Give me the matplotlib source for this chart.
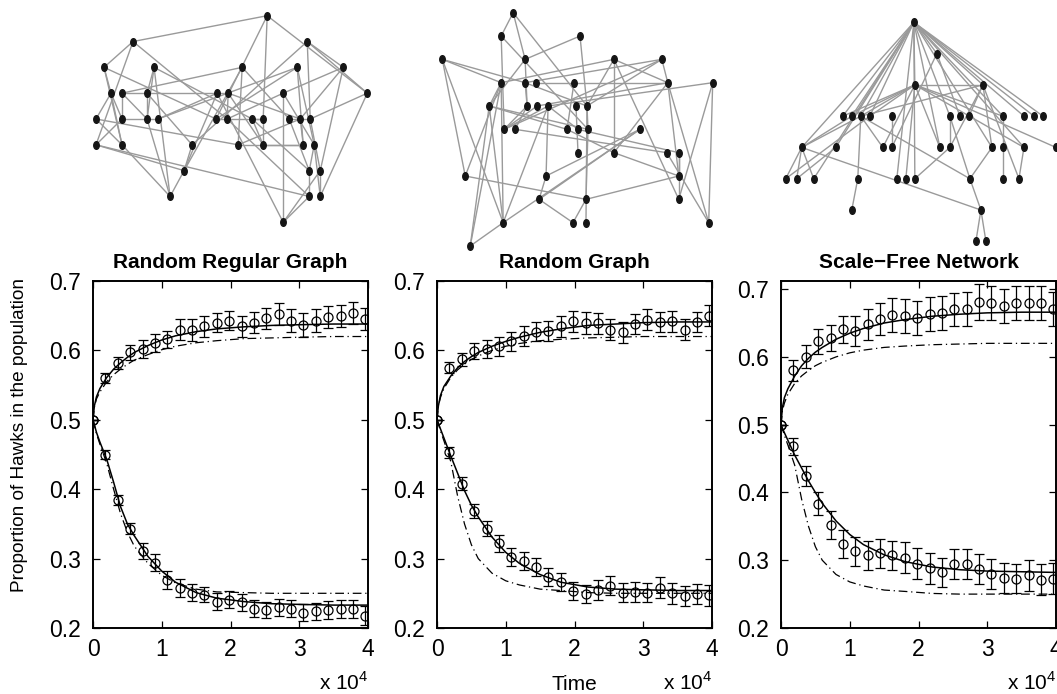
import matplotlib
matplotlib.use("Agg")
import matplotlib.pyplot as plt
from matplotlib.path import Path
from matplotlib.transforms import Affine2D
from matplotlib.collections import LineCollection

plt.rcParams['font.family'] = ['Liberation Sans', 'DejaVu Sans']
plt.rcParams['mathtext.fontset'] = 'custom'
plt.rcParams['mathtext.rm'] = 'Liberation Sans'

# ---- simulation samples (time steps) ----
t_obs = [0, 1800, 3600, 5400, 7200, 9000, 10800, 12600, 14400, 16200, 18000, 19800,
         21600, 23400, 25200, 27000, 28800, 30600, 32400, 34200, 36000, 37800, 39600]

rrg_up = [0.500, 0.560, 0.582, 0.597, 0.602, 0.611, 0.616, 0.630, 0.629, 0.635, 0.640, 0.643,
          0.635, 0.640, 0.646, 0.652, 0.643, 0.637, 0.643, 0.648, 0.650, 0.654, 0.645]
rrg_up_err = [0, .007, .009, .011, .013, .013, .012, .015, .016, .015, .014, .014,
              .015, .015, .015, .016, .017, .017, .016, .016, .016, .016, .016]
rrg_low = [0.500, 0.450, 0.384, 0.343, 0.311, 0.294, 0.269, 0.258, 0.251, 0.248, 0.238, 0.241,
           0.237, 0.228, 0.226, 0.230, 0.228, 0.222, 0.224, 0.226, 0.228, 0.228, 0.218]
rrg_low_err = [0, .006, .007, .008, .011, .012, .013, .013, .012, .011, .012, .012,
               .012, .012, .012, .012, .012, .012, .012, .013, .013, .013, .013]

rg_up = [0.500, 0.575, 0.587, 0.599, 0.602, 0.606, 0.613, 0.621, 0.627, 0.628, 0.635, 0.642,
         0.640, 0.639, 0.630, 0.626, 0.638, 0.644, 0.641, 0.642, 0.630, 0.641, 0.650]
rg_up_err = [0, .008, .009, .012, .013, .014, .014, .014, .014, .014, .015, .015,
             .016, .015, .015, .015, .015, .015, .015, .015, .015, .015, .015]
rg_low = [0.500, 0.453, 0.408, 0.369, 0.343, 0.322, 0.302, 0.296, 0.288, 0.274, 0.266, 0.254,
          0.249, 0.255, 0.261, 0.251, 0.252, 0.251, 0.258, 0.250, 0.246, 0.249, 0.247]
rg_low_err = [0, .008, .009, .010, .011, .012, .013, .013, .013, .013, .013, .013,
              .013, .014, .014, .014, .014, .014, .015, .015, .015, .015, .015]

sf_up = [0.500, 0.580, 0.600, 0.623, 0.628, 0.641, 0.638, 0.648, 0.656, 0.662, 0.661, 0.658,
         0.663, 0.665, 0.670, 0.671, 0.681, 0.680, 0.675, 0.680, 0.679, 0.680, 0.671]
sf_up_err = [0, .015, .017, .018, .019, .020, .022, .023, .024, .025, .025, .025,
             .025, .025, .025, .025, .026, .025, .025, .025, .025, .025, .025]
sf_low = [0.500, 0.468, 0.424, 0.383, 0.352, 0.324, 0.313, 0.307, 0.310, 0.307, 0.304, 0.295,
          0.288, 0.282, 0.294, 0.295, 0.287, 0.280, 0.274, 0.273, 0.278, 0.271, 0.273]
sf_low_err = [0, .012, .015, .017, .020, .021, .022, .022, .022, .022, .023, .023,
              .023, .022, .022, .022, .022, .022, .022, .022, .023, .023, .023]

# ---- model curves (solid: network approximation, dash-dot: mean field) ----
t_fit = [0, 200, 500, 1000, 2000, 3000, 4000, 5000, 6000, 8000, 10000, 12000,
         15000, 18000, 22000, 26000, 30000, 35000, 40000]
rrg_fit_up = [.500, .520, .533, .545, .561, .573, .582, .590, .597, .607, .615, .621,
              .627, .631, .634, .636, .637, .638, .638]
rrg_fit_low = [.500, .493, .482, .468, .443, .410, .375, .350, .333, .303, .282, .266,
               .251, .243, .238, .235, .234, .233, .233]
rrg_mf_up = [.500, .518, .530, .540, .555, .565, .573, .580, .586, .594, .601, .606,
             .611, .614, .617, .618, .619, .620, .620]
rrg_mf_low = [.500, .492, .480, .465, .437, .400, .365, .338, .318, .293, .276, .265,
              .256, .252, .251, .250, .250, .250, .250]
rg_fit_up = [.500, .520, .535, .548, .563, .575, .584, .591, .597, .606, .613, .619,
             .626, .631, .636, .638, .640, .641, .641]
rg_fit_low = [.500, .495, .487, .474, .448, .423, .398, .377, .360, .331, .309, .293,
              .277, .266, .259, .256, .255, .254, .254]
sf_fit_up = [.500, .525, .540, .553, .572, .587, .598, .607, .614, .626, .635, .642,
             .650, .655, .660, .663, .665, .666, .666]
sf_fit_low = [.500, .495, .488, .477, .455, .436, .417, .400, .384, .358, .338, .323,
              .308, .298, .290, .286, .284, .283, .282]
mf_up = [.500, .520, .532, .545, .561, .572, .580, .587, .592, .600, .606, .610,
         .614, .616, .618, .619, .620, .620, .620]
mf_low = [.500, .494, .484, .470, .440, .390, .350, .320, .300, .279, .268, .262,
          .256, .254, .251, .250, .250, .250, .250]

titles = ['Random Regular Graph', 'Random Graph', 'Scale\u2212Free Network']

# ---- network layouts (x position, row) and edge lists ----
g1_x = [267, 133, 307, 104, 154, 242, 297, 343, 111, 122, 147, 217, 228, 283, 367, 96, 122, 147, 158, 216,
        227, 252, 263, 289, 300, 310, 96, 122, 192, 238, 263, 303, 314, 184, 309, 320, 170, 309, 320, 283]
g1_row = [0, 1, 1, 2, 2, 2, 2, 2, 3, 3, 3, 3, 3, 3, 3, 4, 4, 4, 4, 4,
          4, 4, 4, 4, 4, 4, 5, 5, 5, 5, 5, 5, 5, 6, 6, 6, 7, 7, 7, 8]
g1_edges = [(0, 1), (0, 19), (0, 22), (0, 14), (1, 3), (1, 26), (1, 20), (2, 7), (2, 14), (2, 28),
            (2, 25), (3, 8), (3, 27), (3, 19), (4, 17), (4, 36), (4, 21), (4, 10), (5, 9), (5, 29),
            (5, 23), (5, 33), (6, 18), (6, 32), (6, 19), (6, 31), (7, 24), (7, 35), (7, 13), (8, 15),
            (8, 27), (8, 16), (9, 16), (9, 17), (9, 11), (10, 17), (10, 28), (11, 12), (11, 39),
            (11, 33), (12, 20), (12, 24), (12, 30), (13, 39), (13, 20), (13, 32), (14, 25), (14, 38),
            (15, 27), (15, 29), (16, 18), (16, 26), (19, 22), (20, 37), (21, 22), (21, 30), (21, 34),
            (22, 30), (23, 25), (23, 34), (24, 31), (24, 29), (25, 35), (26, 37), (26, 33), (27, 36),
            (28, 33), (29, 31), (30, 31), (32, 34), (32, 38), (33, 36), (34, 37), (35, 38), (35, 39),
            (37, 39), (17, 36), (18, 11)]

g2_x = [513, 501, 580, 442, 525, 614, 662, 501, 525, 536, 574, 668, 713, 489, 527, 537, 548, 576, 587, 504,
        515, 567, 578, 588, 640, 578, 614, 667, 679, 465, 546, 679, 539, 586, 679, 503, 573, 586, 709, 470]
g2_row = [0, 1, 1, 2, 2, 2, 2, 3, 3, 3, 3, 3, 3, 4, 4, 4, 4, 4, 4, 5,
          5, 5, 5, 5, 5, 6, 6, 6, 6, 7, 7, 7, 8, 8, 8, 9, 9, 9, 9, 10]
g2_edges = [(0, 1), (0, 18), (0, 4), (1, 19), (1, 23), (2, 4), (2, 18), (3, 7), (3, 35), (3, 29),
            (3, 8), (4, 14), (4, 13), (5, 7), (5, 26), (5, 18), (5, 34), (5, 11), (6, 8), (6, 11),
            (6, 18), (6, 19), (7, 35), (7, 39), (7, 13), (8, 18), (8, 14), (9, 11), (10, 21),
            (11, 38), (11, 26), (11, 15), (11, 31), (12, 16), (12, 34), (13, 23), (13, 35), (13, 39),
            (13, 21), (14, 19), (14, 20), (15, 19), (16, 30), (16, 22), (16, 35), (17, 25), (18, 37),
            (18, 23), (20, 27), (21, 26), (22, 28), (23, 33), (24, 35), (24, 30), (26, 31), (27, 38),
            (28, 31), (28, 34), (29, 33), (29, 7), (30, 32), (31, 33), (32, 36), (33, 36), (35, 39),
            (16, 19), (12, 38), (24, 32)]

g3_x = [914, 937, 915, 983, 843, 852, 861, 870, 892, 950, 960, 969, 1003, 1024, 1034, 1043, 802, 836, 883, 892,
        940, 950, 992, 1003, 1024, 1056, 786, 797, 814, 858, 897, 906, 915, 970, 1003, 1019, 852, 981, 976, 986]
g3_row = [0, 1, 2, 2, 3, 3, 3, 3, 3, 3, 3, 3, 3, 3, 3, 3, 4, 4, 4, 4,
          4, 4, 4, 4, 4, 4, 5, 5, 5, 5, 5, 5, 5, 5, 5, 5, 6, 6, 7, 7]
g3_edges = [(0, 1), (0, 2), (0, 3), (0, 4), (0, 5), (0, 6), (0, 7), (0, 16), (0, 17), (0, 32),
            (0, 9), (0, 20), (0, 12), (0, 13), (0, 14), (0, 15), (0, 22), (0, 24), (0, 28), (0, 30),
            (1, 19), (1, 10), (2, 4), (2, 5), (2, 6), (2, 7), (2, 3), (2, 20), (2, 24), (2, 12),
            (2, 18), (2, 31), (2, 25), (3, 6), (3, 21), (3, 22), (3, 35), (3, 11), (5, 16), (6, 29),
            (6, 18), (6, 33), (6, 16), (7, 26), (8, 19), (9, 21), (9, 33), (12, 23), (16, 26),
            (16, 27), (16, 28), (16, 37), (17, 27), (22, 33), (23, 34), (24, 35), (29, 36), (32, 21),
            (33, 37), (37, 38), (37, 39)]

W, H = 1057, 694
fig = plt.figure(figsize=(W / 100, H / 100), dpi=100)


def px_axes(x0, y0, x1, y1):
    return fig.add_axes([x0 / W, 1 - y1 / H, (x1 - x0) / W, (y1 - y0) / H])


node_marker = Path.unit_circle().transformed(Affine2D().scale(0.72, 1.0))


def draw_net(rect, xs, rows, edges):
    ax = px_axes(*rect)
    segs = [[(xs[a], rows[a]), (xs[b], rows[b])] for a, b in edges]
    ax.add_collection(LineCollection(segs, colors='#9a9a9a', linewidths=1.0, zorder=1, clip_on=False))
    ax.plot(xs, rows, ls='none', marker=node_marker, ms=5.5, color='#151515', zorder=2, clip_on=False)
    ax.set_xlim(min(xs), max(xs))
    ax.set_ylim(max(rows), 0)
    ax.axis('off')


draw_net((96, 15.7, 367.3, 222.3), g1_x, g1_row, g1_edges)
draw_net((442.3, 12.7, 712.7, 246), g2_x, g2_row, g2_edges)
draw_net((785.7, 22.3, 1056, 241.3), g3_x, g3_row, g3_edges)

panels = [
    (93, rrg_up, rrg_up_err, rrg_low, rrg_low_err, rrg_fit_up, rrg_fit_low, rrg_mf_up, rrg_mf_low, 0.70),
    (437, rg_up, rg_up_err, rg_low, rg_low_err, rg_fit_up, rg_fit_low, mf_up, mf_low, 0.70),
    (781, sf_up, sf_up_err, sf_low, sf_low_err, sf_fit_up, sf_fit_low, mf_up, mf_low, 0.712),
]

xo = [t / 1e4 for t in t_obs]
xf = [t / 1e4 for t in t_fit]

for k, (left, up, up_e, low, low_e, fu, fl, mu, ml, ytop) in enumerate(panels):
    ax = px_axes(left, 281, left + 275, 628)
    for y, e in ((up, up_e), (low, low_e)):
        ax.errorbar(xo, y, yerr=e, fmt='o', ms=6.5, mfc='none', mec='k', mew=0.9,
                    ecolor='k', elinewidth=0.9, capsize=3.5, capthick=0.9, zorder=3)
    ax.plot(xf, fu, color='k', lw=1.1, zorder=2)
    ax.plot(xf, fl, color='k', lw=1.1, zorder=2)
    ax.plot(xf, mu, color='k', lw=0.9, ls=(0, (7, 3, 1, 3)), zorder=2)
    ax.plot(xf, ml, color='k', lw=0.9, ls=(0, (7, 3, 1, 3)), zorder=2)
    ax.set_xlim(0, 4)
    ax.set_ylim(0.2, ytop)
    ax.set_xticks([0, 1, 2, 3, 4])
    ax.set_yticks([0.2, 0.3, 0.4, 0.5, 0.6, 0.7])
    ax.set_yticklabels(['0.2', '0.3', '0.4', '0.5', '0.6', '0.7'])
    ax.tick_params(direction='in', top=True, right=True, length=5, width=0.9,
                   labelsize=16.5, pad=9)
    ax.tick_params(axis='x', pad=7)
    for s in ax.spines.values():
        s.set_linewidth(1.4)
    ax.set_title(titles[k], fontsize=15, fontweight='bold', pad=9)
    ax.text(1.0, -0.178, r'x 10$^4$', transform=ax.transAxes, ha='right', va='baseline', fontsize=15)
    if k == 1:
        ax.text(0.5, -0.178, 'Time', transform=ax.transAxes, ha='center', va='baseline', fontsize=15)

fig.text(20 / W, 1 - 435 / H, 'Proportion of Hawks in the population', rotation=90,
         ha='center', va='center', fontsize=13.7)

fig.savefig('out.png', dpi=100)
